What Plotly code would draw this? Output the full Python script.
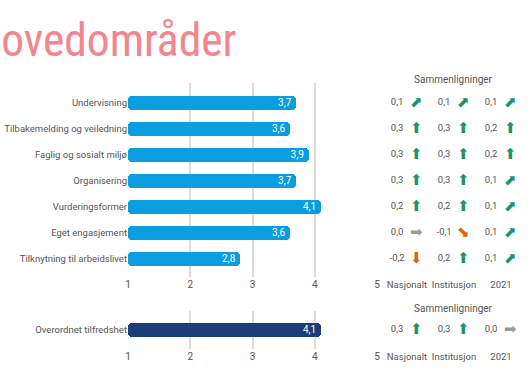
import plotly.graph_objects as go

W, H = 531, 375

categories = ["Undervisning", "Tilbakemelding og veiledning", "Faglig og sosialt miljø",
              "Organisering", "Vurderingsformer", "Eget engasjement", "Tilknytning til arbeidslivet"]
scores = [3.7, 3.6, 3.9, 3.7, 4.1, 3.6, 2.8]

overall_label = ["Overordnet tilfredshet"]
overall_score = [4.1]

comp_columns = ["Nasjonalt", "Institusjon", "2021"]
diff_nasjonalt = [0.1, 0.3, 0.3, 0.3, 0.2, 0.0, -0.2]
diff_institusjon = [0.1, 0.3, 0.3, 0.3, 0.2, -0.1, 0.2]
diff_2021 = [0.1, 0.2, 0.2, 0.1, 0.1, 0.1, 0.1]
overall_diffs = [0.3, 0.3, 0.0]

x_ticks = [1, 2, 3, 4, 5]

BLUE = "#0A9DE0"
NAVY = "#1B3E79"
GREEN = "#1C9466"
ORANGE = "#E0620D"
GREY_ARROW = "#9A9A9A"
TXT = "#555555"
FONT = "Liberation Sans Narrow, Arial Narrow, Roboto, sans-serif"
ARROW_FONT = "DejaVu Sans, sans-serif"
SZ = 9.5
HIDDEN = "rgba(0,0,0,0)"


def px_x(p):
    return p / W


def px_y(p):
    return 1 - p / H


def fmt(v):
    return f"{v:.1f}".replace(".", ",")


def arrow_glyph(v):
    if v >= 0.2:
        return "\u2B06"   # up
    if v > 0:
        return "\u2B08"   # up-right
    if v == 0:
        return "\u27A1"   # right
    if v > -0.2:
        return "\u2B0A"   # down-right
    return "\u2B07"       # down


def arrow_color(v):
    if v > 0:
        return GREEN
    if v < 0:
        return ORANGE
    return GREY_ARROW


fig = go.Figure()

# main bars
fig.add_trace(go.Bar(
    x=[s - 1 for s in scores], base=1, y=list(range(len(categories))), orientation="h",
    marker=dict(color=BLUE, cornerradius=4, line=dict(width=0)),
    width=0.53, xaxis="x", yaxis="y", showlegend=False, hoverinfo="skip",
))
fig.add_trace(go.Scatter(
    x=scores, y=list(range(len(categories))), mode="markers+text",
    marker=dict(size=6, color=HIDDEN),
    text=[fmt(s) for s in scores], textposition="middle left",
    textfont=dict(color="white", size=10, family=FONT),
    xaxis="x", yaxis="y", showlegend=False, hoverinfo="skip",
))

fig.add_trace(go.Bar(
    x=[s - 1 for s in overall_score], base=1, y=[0], orientation="h",
    marker=dict(color=NAVY, cornerradius=4, line=dict(width=0)),
    width=0.37, xaxis="x2", yaxis="y2", showlegend=False, hoverinfo="skip",
))
fig.add_trace(go.Scatter(
    x=overall_score, y=[0], mode="markers+text",
    marker=dict(size=6, color=HIDDEN),
    text=[fmt(s) for s in overall_score], textposition="middle left",
    textfont=dict(color="white", size=10, family=FONT),
    xaxis="x2", yaxis="y2", showlegend=False, hoverinfo="skip",
))

# comparisons
cols = [diff_nasjonalt, diff_institusjon, diff_2021]
for ci, col in enumerate(cols):
    ys = list(range(len(col)))
    fig.add_trace(go.Scatter(
        x=[ci - 0.21] * len(col), y=ys, mode="text",
        text=[fmt(v) for v in col], textposition="middle center",
        textfont=dict(size=SZ, color=TXT, family=FONT),
        xaxis="x3", yaxis="y", showlegend=False, hoverinfo="skip",
    ))
    fig.add_trace(go.Scatter(
        x=[ci + 0.2] * len(col), y=ys, mode="text",
        text=[arrow_glyph(v) for v in col], textposition="middle center",
        textfont=dict(size=15, color=[arrow_color(v) for v in col], family=ARROW_FONT),
        xaxis="x3", yaxis="y", showlegend=False, hoverinfo="skip",
    ))

fig.add_trace(go.Scatter(
    x=[i - 0.21 for i in range(3)], y=[0, 0, 0], mode="text",
    text=[fmt(v) for v in overall_diffs], textposition="middle center",
    textfont=dict(size=SZ, color=TXT, family=FONT),
    xaxis="x4", yaxis="y2", showlegend=False, hoverinfo="skip",
))
fig.add_trace(go.Scatter(
    x=[i + 0.2 for i in range(3)], y=[0, 0, 0], mode="text",
    text=[arrow_glyph(v) for v in overall_diffs], textposition="middle center",
    textfont=dict(size=15, color=[arrow_color(v) for v in overall_diffs], family=ARROW_FONT),
    xaxis="x4", yaxis="y2", showlegend=False, hoverinfo="skip",
))

x_dom = [px_x(128), px_x(377)]
comp_dom = [px_x(377), 1.0]
top_dom = [px_y(277), px_y(83)]
bot_dom = [px_y(349), px_y(311)]

xaxis_common = dict(
    range=[1, 5], tickvals=x_ticks, ticktext=[str(t) for t in x_ticks],
    showgrid=True, gridcolor="#DDDDDD", gridwidth=2, zeroline=False, showline=False,
    tickfont=dict(size=SZ + 0.5, color=TXT, family=FONT), ticks="", fixedrange=True,
    automargin=False, tickangle=0,
)
comp_common = dict(
    range=[-30 / 47, 124 / 47], tickvals=[0, 1, 2], ticktext=comp_columns,
    showgrid=False, zeroline=False, showline=False, ticks="",
    tickfont=dict(size=SZ, color=TXT, family=FONT), automargin=False, tickangle=0,
)
yaxis_common = dict(
    showgrid=False, zeroline=False, showline=False, ticks="",
    tickfont=dict(size=SZ, color=TXT, family=FONT), automargin=False,
)

fig.update_layout(
    width=W, height=H, margin=dict(l=0, r=0, t=0, b=0, autoexpand=False),
    paper_bgcolor="white", plot_bgcolor="white",
    separators=", ",
    font=dict(family=FONT, color=TXT),
    bargap=0,
    xaxis=dict(domain=x_dom, anchor="y", **xaxis_common),
    xaxis2=dict(domain=x_dom, anchor="y2", **xaxis_common),
    xaxis3=dict(domain=comp_dom, anchor="y", **comp_common),
    xaxis4=dict(domain=comp_dom, anchor="y2", **comp_common),
    yaxis=dict(domain=top_dom, range=[6 + 18 / 26, -20 / 26],
               tickvals=list(range(len(categories))), ticktext=categories,
               anchor="x", **yaxis_common),
    yaxis2=dict(domain=bot_dom, range=[0.5, -0.5],
                tickvals=[0], ticktext=overall_label,
                anchor="x2", **yaxis_common),
    annotations=[
        dict(text="Hovedområder", x=px_x(104.5), y=px_y(40), xref="paper", yref="paper",
             xanchor="center", yanchor="middle", showarrow=False,
             font=dict(size=45.5, color="#F2858E",
                       family="Liberation Sans Narrow, Roboto Condensed, Roboto, sans-serif")),
        dict(text="Sammenligninger", x=px_x(453), y=px_y(79), xref="paper", yref="paper",
             xanchor="center", yanchor="middle", showarrow=False,
             font=dict(size=10, color=TXT, family=FONT)),
        dict(text="Sammenligninger", x=px_x(453), y=px_y(308), xref="paper", yref="paper",
             xanchor="center", yanchor="middle", showarrow=False,
             font=dict(size=10, color=TXT, family=FONT)),
    ],
)

fig.write_html("out.html", post_script="document.body.style.margin='0px';",
               config={"displayModeBar": False})
